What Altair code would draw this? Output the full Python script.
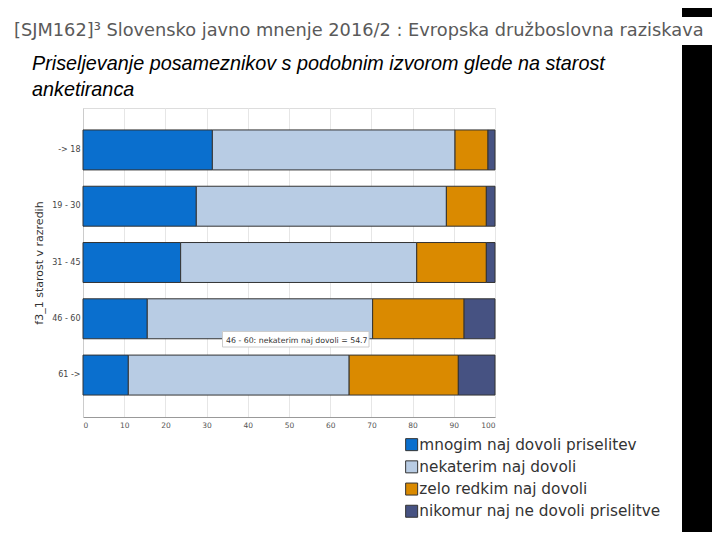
import altair as alt
import pandas as pd

# ---- data ----
ages = ["-> 18", "19 - 30", "31 - 45", "46 - 60", "61 ->"]
series = [
    "mnogim naj dovoli priselitev",
    "nekaterim naj dovoli",
    "zelo redkim naj dovoli",
    "nikomur naj ne dovoli priselitve",
]
mnogim = [31.4, 27.5, 23.7, 15.6, 11.0]
nekaterim = [58.9, 60.7, 57.3, 54.7, 53.6]
zelo = [8.0, 9.7, 16.9, 22.2, 26.5]
nikomur = [1.7, 2.1, 2.1, 7.5, 8.9]
colors = ["#0a6fce", "#b8cce4", "#da8a00", "#465282"]
x_ticks = list(range(0, 101, 10))

title_text = "[SJM162]³ Slovensko javno mnenje 2016/2 : Evropska družboslovna raziskava"
sub1 = "Priseljevanje posameznikov s podobnim izvorom glede na starost"
sub2 = "anketiranca"
y_title = "f3_1 starost v razredih"
tooltip_text = "46 - 60: nekaterim naj dovoli = 54.7"

rows = []
for i, a in enumerate(ages):
    for j, vals in enumerate([mnogim, nekaterim, zelo, nikomur]):
        rows.append({"age": a, "series": series[j], "value": vals[i], "ord": j})
df = pd.DataFrame(rows)

FONT = "DejaVu Sans"

bars = alt.Chart(df).mark_bar(stroke="#333333", strokeWidth=1).encode(
    x=alt.X(
        "value:Q",
        stack="zero",
        scale=alt.Scale(domain=[0, 100], nice=False),
        axis=alt.Axis(
            values=x_ticks, title=None, ticks=False, labelPadding=4,
            labelFontSize=7.5, labelColor="#555555", labelFont=FONT,
            domainColor="#999999", gridColor="#e6e6e6", grid=True,
        ),
    ),
    y=alt.Y(
        "age:N",
        sort=ages,
        scale=alt.Scale(paddingInner=0.29, paddingOuter=0.39),
        axis=alt.Axis(
            title=y_title, ticks=False, labelPadding=3, labelFontSize=8,
            labelColor="#444444", labelFont=FONT, domainColor="#cccccc",
            titleFont=FONT, titleFontSize=11, titleFontWeight="normal",
            titleColor="#333333", titlePadding=7, grid=False,
        ),
    ),
    color=alt.Color(
        "series:N",
        sort=series,
        scale=alt.Scale(domain=series, range=colors),
        legend=alt.Legend(
            orient="none", legendX=321, legendY=329, title=None,
            symbolType="square", symbolSize=144, symbolStrokeColor="#333333",
            symbolStrokeWidth=1, symbolOpacity=1, labelFont=FONT,
            labelFontSize=15.3, labelColor="#333333", rowPadding=5.2,
            labelOffset=0, padding=0, labelLimit=400,
        ),
    ),
    order=alt.Order("ord:Q"),
)

one = pd.DataFrame({"k": [0]})

title_layer = alt.Chart(pd.DataFrame({"t": [title_text]})).mark_text(
    align="left", baseline="alphabetic", font=FONT, fontSize=17.8, color="#5a5a5a"
).encode(x=alt.value(-69), y=alt.value(-72), text="t:N")

sub_layer1 = alt.Chart(pd.DataFrame({"t": [sub1]})).mark_text(
    align="left", baseline="alphabetic", font="Liberation Sans", fontStyle="italic",
    fontSize=19.8, color="#000000"
).encode(x=alt.value(-51), y=alt.value(-38), text="t:N")

sub_layer2 = alt.Chart(pd.DataFrame({"t": [sub2]})).mark_text(
    align="left", baseline="alphabetic", font="Liberation Sans", fontStyle="italic",
    fontSize=19.8, color="#000000"
).encode(x=alt.value(-51), y=alt.value(-12), text="t:N")

black_top = alt.Chart(one).mark_rect(color="#000000").encode(
    x=alt.value(599), x2=alt.value(629), y=alt.value(-100), y2=alt.value(-91)
)
black_main = alt.Chart(one).mark_rect(color="#000000").encode(
    x=alt.value(599), x2=alt.value(629), y=alt.value(-63), y2=alt.value(424)
)

tip_box = alt.Chart(one).mark_rect(fill="#ffffff", stroke="#cccccc", strokeWidth=1).encode(
    x=alt.value(139.5), x2=alt.value(286), y=alt.value(223.5), y2=alt.value(239)
)
tip_text = alt.Chart(pd.DataFrame({"t": [tooltip_text]})).mark_text(
    align="left", baseline="alphabetic", font=FONT, fontSize=7.8, color="#333333"
).encode(x=alt.value(143), y=alt.value(235), text="t:N")

chart = alt.layer(
    bars, tip_box, tip_text, black_top, black_main, title_layer, sub_layer1, sub_layer2
).properties(
    width=412,
    height=309,
    padding={"left": 75, "top": 100, "right": 217, "bottom": 115},
    autosize=alt.AutoSizeParams(type="none"),
    background="#ffffff",
).configure_view(stroke="#dddddd")

chart.save("out.html", embed_options={"renderer": "svg", "actions": False})
